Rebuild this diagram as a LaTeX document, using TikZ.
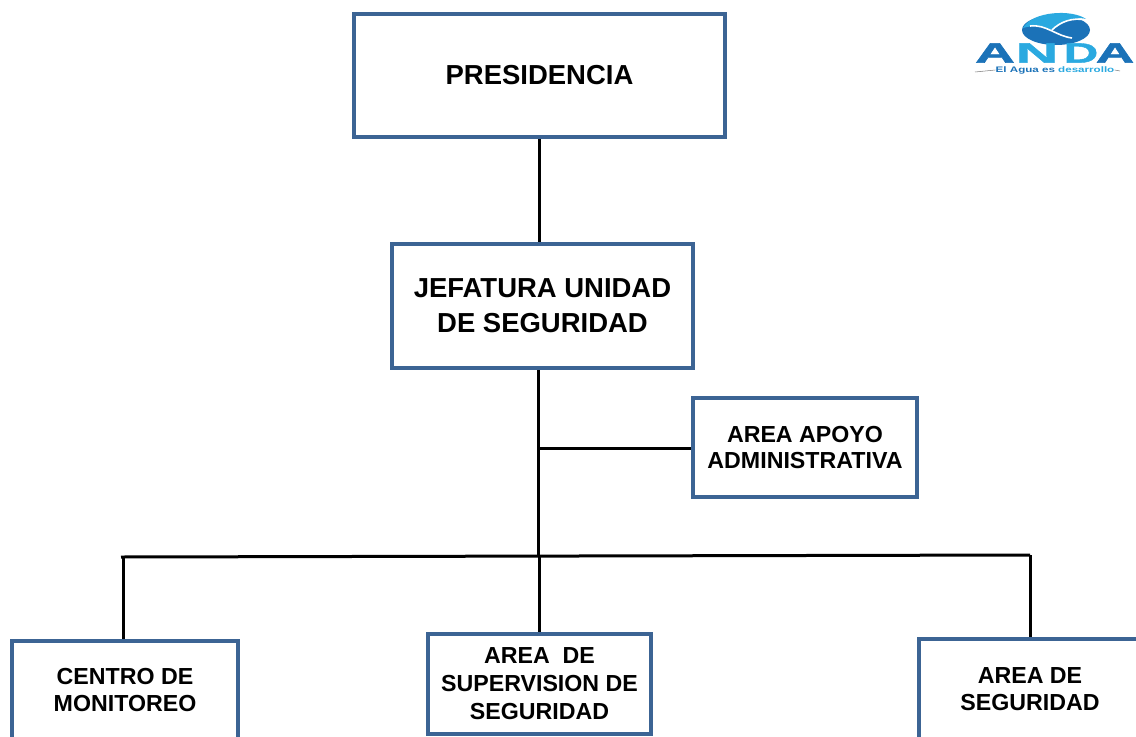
\documentclass[tikz,border=0pt]{standalone}
\usepackage{fontspec}
\setmainfont{Liberation Sans}
\newfontfamily\logofont[BoldFeatures={FakeBold=1.5}]{Liberation Sans}
\usetikzlibrary{positioning, shapes.geometric}
\usepackage{xcolor}
\definecolor{boxblue}{HTML}{3C6494}
\definecolor{andadark}{HTML}{1B72B8}
\definecolor{andalight}{HTML}{2AA9E0}

\begin{document}
\begin{tikzpicture}[x=0.75pt, y=-0.75pt]
                % Styles
                \tikzstyle{bigbox} = [rectangle, draw=boxblue, line width=3pt, fill=white, align=center, font=\fontsize{20.6}{26}\selectfont\bfseries, inner sep=0pt]
                \tikzstyle{smallbox} = [rectangle, draw=boxblue, line width=3pt, fill=white, align=center, font=\fontsize{17.4}{20}\selectfont\bfseries, inner sep=0pt]
                \tikzstyle{arrow} = [line width=2.25pt, black]
                \tikzstyle{logotext} = [inner sep=0pt, font=\fontsize{21}{21}\logofont\bfseries]

                \useasboundingbox (0,0) rectangle (1136,736);

                \coordinate (busleft) at (121,557);
                \coordinate (busdrop) at (123,557);
                \coordinate (busright) at (1030,555);
                \coordinate (busmid) at (538.5,556);
                \coordinate (apoyojoin) at (538.5,448);

                % Nodes
                \node (presidencia) [bigbox, minimum width=278.25pt, minimum height=92.25pt] at (539.5,75.5) {PRESIDENCIA};
                \node (jefatura) [bigbox, minimum width=225.75pt, minimum height=93pt] at (542.5,306) {JEFATURA UNIDAD\\DE SEGURIDAD};
                \node (apoyo) [smallbox, minimum width=168pt, minimum height=74.25pt] at (805,447.5) {AREA APOYO\\ADMINISTRATIVA};
                \node (centro) [smallbox, minimum width=169.5pt, minimum height=73.5pt] at (125,690) {CENTRO DE\\MONITOREO};
                \node (supervision) [smallbox, font=\fontsize{17.4}{21}\selectfont\bfseries, minimum width=167.25pt, minimum height=75pt] at (539.5,684) {AREA\ \ DE\\SUPERVISION DE\\SEGURIDAD};
                \node (seguridad) [smallbox, minimum width=166.5pt, minimum height=75pt] at (1030,689) {AREA DE\\SEGURIDAD};

                % Paths
                \draw [arrow] (presidencia.south) -- (jefatura.north -| presidencia.south);
                \draw [arrow] (jefatura.south -| busmid) -- (busmid);
                \draw [arrow] (apoyojoin) -- (apoyo.west |- apoyojoin);
                \draw [arrow] (busleft) -- (busright);
                \draw [arrow] (busdrop) -- (busdrop |- centro.north);
                \draw [arrow] (busmid -| supervision.north) -- (supervision.north);
                \draw [arrow] (busright) -- (seguridad.north);

                % Logo
                \fill [andadark] (1056,30) ellipse [x radius=34, y radius=15];
                \fill [andalight] (1023,28) .. controls (1032,11) and (1072,9) .. (1086,19) .. controls (1070,16) and (1062,24) .. (1052,30) .. controls (1044,26) and (1032,25) .. (1023,28);
                \draw [white, line width=1.2pt] (1030,26) .. controls (1046,24) and (1056,36) .. (1072,38);
                \draw [white, line width=1.2pt] (1052,30) .. controls (1060,22) and (1072,17) .. (1087,20);
                \node (logod) [logotext, text=andalight, xscale=1.7] at (1081,53) {D};
                \node (logoa) [logotext, text=andadark, xscale=1.97] at (995,53) {A};
                \node (logon) [logotext, text=andalight, xscale=2.1] at (1037,53) {N};
                \node (logob) [logotext, text=andadark, xscale=1.9] at (1115,53) {A};
                \node (tagline) [inner sep=0pt, font=\fontsize{6}{7}\selectfont\bfseries, text=andadark, xscale=1.45] at (1055,70) {El Agua es \textcolor{andalight}{desarrollo}};
                \draw [gray, line width=0.4pt] (975,72) -- (tagline.west);
                \draw [gray, line width=0.4pt] (tagline.east) -- (1120,71);
\end{tikzpicture}
\end{document}
